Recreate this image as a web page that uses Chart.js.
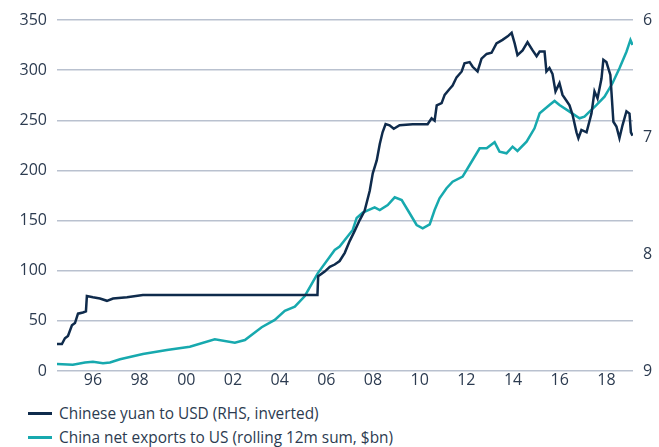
<!DOCTYPE html>
<html>
<head>
<meta charset="utf-8">
<script src="https://cdn.jsdelivr.net/npm/chart.js@4/dist/chart.umd.min.js"></script>
<style>
  html, body { margin:0; padding:0; background:#ffffff; }
  body { width:659px; height:447px; position:relative; overflow:hidden; font-family:"Open Sans", sans-serif; }
  #wrap { position:absolute; left:0; top:0; width:659px; height:395px; }
  .lg { position:absolute; left:0; height:24px; width:659px; }
  .lg .mk { position:absolute; left:28px; width:24px; height:3px; top:10px; }
  .lg .tx { position:absolute; left:59px; top:0; line-height:24px; font-size:15.4px; color:#2c3b50; white-space:nowrap; }
</style>
</head>
<body>
<div id="wrap"><canvas id="c"></canvas></div>
<div class="lg" style="top:402px"><div class="mk" style="background:#0f2b4c"></div><div class="tx" id="lg1"></div></div>
<div class="lg" style="top:426px"><div class="mk" style="background:#17a9ae"></div><div class="tx" id="lg2"></div></div>
<script>
// ---- Data ----
const seriesNames = ["Chinese yuan to USD (RHS, inverted)", "China net exports to US (rolling 12m sum, $bn)"];

const yuanYears = [1994.46,1994.67,1994.80,1994.93,1995.10,1995.23,1995.36,1995.57,1995.70,1995.74,1996.00,1996.30,1996.60,1996.86,1997.46,1998.14,2000.15,2002.50,2004.50,2005.62,
  2005.65,2005.93,2006.15,2006.36,2006.57,2006.79,2007.00,2007.22,2007.43,2007.64,2007.86,2007.99,2008.16,2008.29,2008.41,2008.54,2008.71,2008.89,2009.14,2009.70,2010.34,2010.51,2010.64,2010.73,2010.94,
  2011.07,2011.28,2011.41,2011.58,2011.80,2011.92,2012.14,2012.27,2012.48,2012.65,2012.87,2013.08,2013.29,2013.55,2013.77,2013.94,2014.07,2014.19,2014.41,2014.62,2014.84,2015.01,2015.14,2015.35,2015.43,
  2015.56,2015.69,2015.82,2015.99,2016.12,2016.29,2016.42,2016.55,2016.72,2016.80,2016.93,2017.15,2017.36,2017.49,2017.62,2017.79,2017.87,2018.00,2018.17,2018.30,2018.43,2018.56,2018.69,2018.86,2018.99,2019.05,2019.12];
const yuanRates = [8.77,8.77,8.72,8.70,8.61,8.59,8.51,8.50,8.49,8.36,8.37,8.38,8.40,8.38,8.37,8.35,8.35,8.35,8.35,8.35,
  8.19,8.15,8.11,8.09,8.06,7.99,7.89,7.80,7.71,7.63,7.46,7.31,7.20,7.06,6.96,6.89,6.90,6.93,6.90,6.89,6.89,6.84,6.86,6.73,6.71,
  6.64,6.59,6.56,6.49,6.44,6.37,6.36,6.40,6.44,6.33,6.29,6.28,6.20,6.17,6.14,6.11,6.20,6.30,6.26,6.19,6.26,6.31,6.27,6.27,6.44,
  6.41,6.46,6.61,6.54,6.64,6.69,6.73,6.81,6.96,7.01,6.94,6.96,6.80,6.61,6.67,6.50,6.34,6.36,6.47,6.87,6.91,7.01,6.90,6.78,6.80,6.96,6.99];

const netYears = [1994.46,1995.14,1995.66,1996.00,1996.43,1996.73,1997.16,1998.14,1999.17,2000.15,2001.22,2002.08,2002.51,2003.23,2003.79,2004.22,2004.65,2005.08,2005.63,2006.36,2006.57,
  2007.13,2007.30,2007.56,2008.07,2008.29,2008.63,2008.93,2009.23,2009.57,2009.87,2010.13,2010.43,2010.64,2010.85,2011.15,2011.41,2011.84,2012.14,2012.57,2012.87,2013.21,2013.42,2013.72,2013.98,
  2014.19,2014.58,2014.92,2015.14,2015.56,2015.78,2015.99,2016.42,2016.85,2017.06,2017.28,2017.58,2017.92,2018.26,2018.56,2018.86,2019.03,2019.12];
const netValues = [7.0,6.3,8.5,9.3,7.7,8.5,11.7,17.0,20.9,24.2,31.6,28.2,30.9,43.6,50.9,60.1,64.1,74.8,97.4,120.7,124.0,
  140.6,152.6,157.9,163.2,160.5,165.5,173.2,170.5,157.3,145.6,142.3,146.3,160.5,172.2,182.2,188.8,193.8,205.4,222.1,222.1,228.1,218.7,217.1,223.7,
  219.4,228.7,242.0,257.0,265.3,269.3,265.3,258.6,252.0,253.6,258.6,265.3,273.5,286.9,301.9,318.4,330.1,325.1];

const xTickYears = [1996,1998,2000,2002,2004,2006,2008,2010,2012,2014,2016,2018];
const leftTicks = [0,50,100,150,200,250,300,350];
const rightTicks = [6,7,8,9];

// ---- Chart ----
document.getElementById('lg1').textContent = seriesNames[0];
document.getElementById('lg2').textContent = seriesNames[1];

const textColor = '#2c3b50';
const font = { family: '"Open Sans", sans-serif', size: 16 };

new Chart(document.getElementById('c'), {
  type: 'line',
  data: {
    datasets: [
      {
        label: seriesNames[1],
        data: netYears.map((x, i) => ({ x, y: netValues[i] })),
        yAxisID: 'yL',
        borderColor: '#17a9ae',
        borderWidth: 2.5,
        pointRadius: 0,
        tension: 0,
        order: 2
      },
      {
        label: seriesNames[0],
        data: yuanYears.map((x, i) => ({ x, y: yuanRates[i] })),
        yAxisID: 'yR',
        borderColor: '#0f2b4c',
        borderWidth: 2.5,
        pointRadius: 0,
        tension: 0,
        order: 1
      }
    ]
  },
  options: {
    responsive: true,
    maintainAspectRatio: false,
    animation: false,
    layout: { padding: { top: 20, left: 0, right: 0, bottom: 0 } },
    plugins: { legend: { display: false }, tooltip: { enabled: false } },
    scales: {
      x: {
        type: 'linear',
        min: 1994.46,
        max: 2019.14,
        afterBuildTicks: (a) => { a.ticks = xTickYears.map(v => ({ value: v })); },
        afterFit: (a) => { a.height = 24; },
        grid: { display: false, drawTicks: false },
        border: { display: false },
        ticks: {
          color: textColor, font, padding: 0, maxRotation: 0, autoSkip: false,
          callback: (v) => String(v % 100).padStart(2, '0')
        }
      },
      yL: {
        position: 'left',
        min: 0, max: 350,
        afterBuildTicks: (a) => { a.ticks = leftTicks.map(v => ({ value: v })); },
        afterFit: (a) => { a.width = 57; },
        grid: { color: '#b9c1cf', lineWidth: 1.5, drawTicks: false },
        border: { display: false },
        ticks: { color: textColor, font, padding: 10 }
      },
      yR: {
        position: 'right',
        min: 6, max: 9, reverse: true,
        afterBuildTicks: (a) => { a.ticks = rightTicks.map(v => ({ value: v })); },
        afterFit: (a) => { a.width = 26; },
        grid: { display: false, drawTicks: false },
        border: { display: false },
        ticks: { color: textColor, font, padding: 10 }
      }
    }
  }
});
</script>
</body>
</html>
